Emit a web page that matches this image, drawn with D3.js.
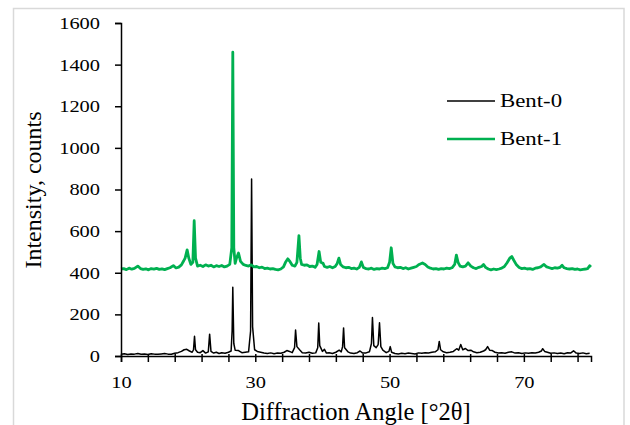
<!DOCTYPE html>
<html>
<head>
<meta charset="utf-8">
<script src="https://cdn.jsdelivr.net/npm/d3@7"></script>
<style>
  body { margin: 0; background: #fff; }
  svg text { font-family: "Liberation Serif", "Times New Roman", "DejaVu Serif", serif; }
</style>
</head>
<body>
<div id="chart"></div>
<script>
// tick labels
const xMajorTicks = [10, 30, 50, 70];
const xMinorTicks = [10, 14, 18, 22, 26, 30, 34, 38, 42, 46, 50, 54, 58, 62, 66, 70, 74, 78];
const yTicks = [0, 200, 400, 600, 800, 1000, 1200, 1400, 1600];
const seriesNames = ['Bent-0', 'Bent-1'];

// Bent-0 [angle °2θ, counts]
const bent0 = [
  [10,8],[10.5,11],[11,7],[11.5,10],[12,9],[12.5,12],[13,8],[13.5,10],[14,7],[14.5,11],[15,9],[15.5,8],
  [16,10],[16.5,12],[17,9],[17.5,8],[18,13],[18.5,16],[19,22],[19.4,30],[19.8,32],[20.2,24],[20.6,18],
  [20.8,30],[20.95,95],[21.1,30],[21.4,18],[21.8,16],[22.2,26],[22.6,14],[23.0,20],[23.2,105],[23.4,22],
  [23.8,14],[24.2,18],[24.6,12],[25,16],[25.5,13],[26,18],[26.4,24],[26.55,120],[26.65,330],[26.8,60],
  [27.0,28],[27.5,26],[28,16],[28.5,18],[29,20],[29.3,120],[29.45,850],[29.6,140],[29.9,30],[30.3,22],
  [30.8,18],[31.3,14],[31.8,12],[32.3,15],[32.8,11],[33.3,14],[33.8,13],[34.3,18],[34.7,26],[35.1,22],
  [35.5,16],[35.85,40],[36.0,125],[36.2,45],[36.6,30],[37,16],[37.5,14],[38,18],[38.5,13],[39,15],
  [39.3,40],[39.45,158],[39.6,50],[40,22],[40.3,32],[40.6,14],[41,16],[41.5,12],[42,18],[42.5,28],
  [42.8,20],[43.0,45],[43.15,135],[43.3,40],[43.8,20],[44.2,14],[44.7,12],[45.2,16],[45.6,24],[46,14],
  [46.5,15],[47,20],[47.3,60],[47.45,185],[47.65,50],[48.0,40],[48.3,55],[48.5,160],[48.7,45],[49.0,28],
  [49.5,16],[49.9,22],[50.1,45],[50.3,18],[50.8,12],[51.3,10],[51.8,13],[52.3,11],[52.8,14],[53.3,12],
  [53.8,10],[54.3,15],[54.8,13],[55.3,16],[55.8,14],[56.3,18],[56.8,20],[57.2,30],[57.4,70],[57.6,30],
  [58,20],[58.5,16],[59,18],[59.5,22],[60,35],[60.3,28],[60.6,55],[60.9,30],[61.3,36],[61.7,26],
  [62.1,28],[62.5,20],[63,16],[63.5,18],[64,24],[64.3,30],[64.6,45],[64.9,28],[65.3,26],[65.7,18],
  [66.2,14],[66.7,16],[67.2,13],[67.7,18],[68.2,20],[68.7,14],[69.2,16],[69.7,12],[70.2,15],[70.7,13],
  [71.2,16],[71.7,14],[72.2,18],[72.6,24],[72.8,35],[73.1,22],[73.5,18],[74,13],[74.5,15],[75,12],
  [75.5,14],[76,11],[76.5,16],[77,15],[77.4,25],[77.8,14],[78.3,12],[78.8,15],[79.3,11],[79.8,13]
];

// Bent-1 [angle °2θ, counts]
const bent1 = [
  [10,418],[10.4,420],[10.8,415],[11.2,422],[11.6,417],[12,421],[12.5,432],[12.9,420],[13.3,416],
  [13.7,419],[14.1,414],[14.5,420],[14.9,417],[15.3,421],[15.7,416],[16.1,419],[16.5,415],[16.9,420],
  [17.3,424],[17.8,434],[18.2,423],[18.6,427],[19.0,438],[19.3,455],[19.55,470],[19.85,510],[20.1,470],
  [20.4,440],[20.7,450],[20.9,650],[21.1,470],[21.4,432],[21.8,436],[22.2,430],[22.6,438],[23.0,432],
  [23.4,436],[23.8,428],[24.2,434],[24.6,430],[25,435],[25.4,428],[25.8,432],[26.2,440],[26.5,520],
  [26.65,1460],[26.8,520],[27.0,445],[27.2,470],[27.5,495],[27.8,455],[28.2,440],[28.6,435],[29,432],
  [29.4,438],[29.8,428],[30.2,430],[30.6,424],[31,427],[31.4,420],[31.8,422],[32.2,418],[32.6,420],
  [33,416],[33.4,414],[33.8,418],[34.2,428],[34.5,450],[34.85,467],[35.2,452],[35.5,436],[35.9,432],
  [36.2,450],[36.5,578],[36.7,470],[36.9,440],[37.3,436],[37.7,438],[38.1,430],[38.5,432],[38.9,426],
  [39.2,440],[39.5,502],[39.75,450],[40.1,445],[40.3,430],[40.7,426],[41.1,430],[41.5,424],[41.9,430],
  [42.2,445],[42.45,470],[42.7,440],[43.1,428],[43.5,424],[43.9,426],[44.3,420],[44.7,422],[45.1,418],
  [45.5,426],[45.8,452],[46.1,425],[46.5,420],[46.9,418],[47.3,422],[47.7,416],[48.1,420],[48.5,418],
  [48.9,422],[49.3,420],[49.7,424],[50.0,450],[50.25,520],[50.5,445],[50.8,428],[51.2,424],[51.6,426],
  [52,420],[52.4,424],[52.8,418],[53.2,422],[53.6,426],[54,430],[54.4,440],[54.9,447],[55.3,440],
  [55.7,428],[56.1,422],[56.5,418],[56.9,420],[57.3,416],[57.7,420],[58.1,418],[58.5,422],[58.9,420],
  [59.3,424],[59.7,440],[59.95,485],[60.2,450],[60.5,432],[60.9,428],[61.3,432],[61.7,448],[62.1,432],
  [62.5,424],[62.9,420],[63.3,426],[63.7,430],[64,440],[64.3,426],[64.7,418],[65.1,414],[65.5,418],
  [65.9,415],[66.3,418],[66.7,422],[67.1,430],[67.5,448],[67.9,470],[68.2,478],[68.5,460],[68.9,438],
  [69.3,425],[69.7,420],[70.1,422],[70.5,418],[70.9,420],[71.3,416],[71.7,422],[72.1,424],[72.5,428],
  [73,440],[73.4,428],[73.8,424],[74.2,420],[74.6,424],[75,422],[75.4,426],[75.7,436],[76,424],
  [76.4,420],[76.8,418],[77.2,420],[77.6,416],[78,418],[78.4,414],[78.8,416],[79.2,418],[79.5,420],
  [79.8,434],[80,428]
];

const W = 630, H = 425;
const margin = { top: 23, right: 39, bottom: 69, left: 121 };
const width = W - margin.left - margin.right;
const height = H - margin.top - margin.bottom;
const serif = '"Liberation Serif", "Times New Roman", "DejaVu Serif", serif';

const root = d3.select('#chart').append('svg')
  .attr('width', W)
  .attr('height', H);

// light frame round the chart
root.append('rect')
  .attr('x', 13.5).attr('y', 8.5)
  .attr('width', 610.5).attr('height', 430)
  .attr('fill', 'none')
  .attr('stroke', '#d9d9d9')
  .attr('stroke-width', 1.5);

const svg = root.append('g')
  .attr('transform', `translate(${margin.left},${margin.top})`);

const x = d3.scaleLinear().domain([10, 80]).range([0, width]);
const y = d3.scaleLinear().domain([0, 1600]).range([height, 0]);

// widen text a bit, the picture is stretched sideways
const stretch = (sel, k) => sel.each(function () {
  const w = this.getComputedTextLength();
  d3.select(this).attr('textLength', w * k).attr('lengthAdjust', 'spacingAndGlyphs');
});

const line = d3.line().x(d => x(d[0])).y(d => y(d[1]));

svg.append('path')
  .datum(bent0)
  .attr('fill', 'none')
  .attr('stroke', '#000')
  .attr('stroke-width', 1.5)
  .attr('stroke-linejoin', 'round')
  .attr('d', line);

svg.append('path')
  .datum(bent1)
  .attr('fill', 'none')
  .attr('stroke', '#00b050')
  .attr('stroke-width', 2.8)
  .attr('stroke-linejoin', 'round')
  .attr('d', line);

// X axis: minor ticks every 4, labels every 20
const xMinor = svg.append('g')
  .attr('transform', `translate(0,${height})`)
  .call(d3.axisBottom(x).tickValues(xMinorTicks).tickSize(6).tickFormat(''));
xMinor.selectAll('.tick line').attr('y1', -2);

const xAxis = svg.append('g')
  .attr('transform', `translate(0,${height})`)
  .attr('font-family', serif)
  .call(d3.axisBottom(x).tickValues(xMajorTicks).tickSize(0).tickPadding(20).tickFormat(d3.format('d')));
xAxis.select('.domain').remove();
xAxis.selectAll('text')
  .style('font-size', '17px')
  .attr('fill', '#000')
  .call(stretch, 1.2);

// Y axis
const yAxis = svg.append('g')
  .attr('font-family', serif)
  .call(d3.axisLeft(y).tickValues(yTicks).tickSize(6).tickPadding(15).tickFormat(d3.format('d')));
yAxis.selectAll('text')
  .style('font-size', '17px')
  .attr('fill', '#000')
  .call(stretch, 1.2);

svg.selectAll('.domain, .tick line').attr('stroke', '#000').attr('stroke-width', 1.5);

// axis titles
root.append('text')
  .attr('x', margin.left + width / 2)
  .attr('y', 420)
  .attr('text-anchor', 'middle')
  .style('font-size', '24.5px')
  .text('Diffraction Angle [°2θ]');

root.append('text')
  .attr('transform', 'translate(41,190) rotate(-90)')
  .attr('text-anchor', 'middle')
  .style('font-size', '24px')
  .text('Intensity, counts');

// legend
const legend = root.append('g');
const legendColors = ['#000', '#00b050'];
const legendWidths = [1.5, 2.5];
seriesNames.forEach((name, i) => {
  const ly = 101 + i * 38;
  legend.append('line')
    .attr('x1', 447).attr('x2', 495)
    .attr('y1', ly).attr('y2', ly)
    .attr('stroke', legendColors[i])
    .attr('stroke-width', legendWidths[i]);
  legend.append('text')
    .attr('x', 500).attr('y', ly + 6)
    .style('font-size', '19px')
    .text(name)
    .call(stretch, 1.2);
});
</script>
</body>
</html>
